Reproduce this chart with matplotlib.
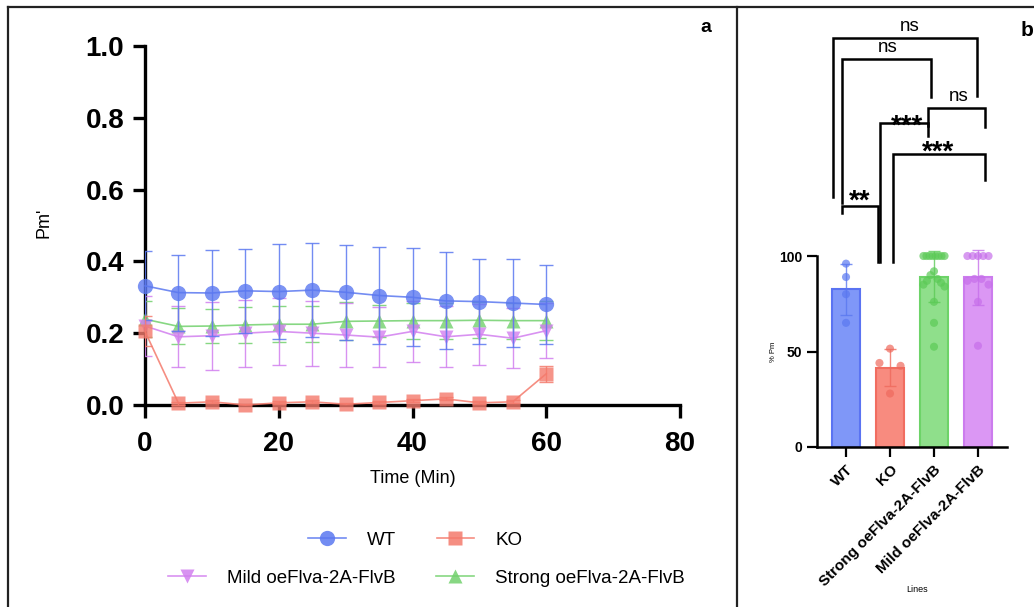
import numpy as np
import matplotlib
matplotlib.use("Agg")
import matplotlib.pyplot as plt
from matplotlib.lines import Line2D
from matplotlib.ticker import FormatStrFormatter

plt.rcParams['font.family'] = ['Liberation Sans', 'DejaVu Sans']

# ---------------- Panel a: Pm' time course ----------------
time_min = [0, 5, 10, 15, 20, 25, 30, 35, 40, 45, 50, 55, 60]

wt_mean = [0.332, 0.313, 0.312, 0.318, 0.316, 0.320, 0.314, 0.305, 0.300, 0.290, 0.288, 0.284, 0.280]
wt_sd = [0.096, 0.106, 0.119, 0.117, 0.133, 0.131, 0.133, 0.135, 0.137, 0.135, 0.119, 0.123, 0.109]

ko_mean = [0.205, 0.005, 0.009, 0.000, 0.006, 0.009, 0.002, 0.007, 0.012, 0.017, 0.006, 0.009, 0.087]
ko_sd = [0.042, 0.004, 0.004, 0.004, 0.004, 0.004, 0.004, 0.004, 0.004, 0.004, 0.004, 0.004, 0.022]

mild_mean = [0.220, 0.190, 0.193, 0.200, 0.205, 0.200, 0.195, 0.189, 0.205, 0.190, 0.197, 0.186, 0.207]
mild_sd = [0.083, 0.085, 0.095, 0.093, 0.093, 0.091, 0.090, 0.084, 0.086, 0.085, 0.085, 0.084, 0.077]

strong_mean = [0.239, 0.219, 0.220, 0.223, 0.225, 0.225, 0.233, 0.234, 0.235, 0.235, 0.236, 0.235, 0.235]
strong_sd = [0.050, 0.050, 0.048, 0.050, 0.050, 0.050, 0.053, 0.045, 0.050, 0.050, 0.050, 0.050, 0.054]

series_labels = ['WT', 'KO', 'Mild oeFlva-2A-FlvB', 'Strong oeFlva-2A-FlvB']

# ---------------- Panel b: % Pm per line ----------------
line_names = ['WT', 'KO', 'Strong oeFlva-2A-FlvB', 'Mild oeFlva-2A-FlvB']
wt_pts = [96, 89, 80, 65]
ko_pts = [51.5, 44, 42.5, 28]
strong_pts = [100, 100, 100, 100, 100, 100, 100, 100, 92, 90, 88, 87, 86, 85, 84, 76, 65, 52.5]
mild_pts = [100, 100, 100, 100, 100, 88, 88, 87, 85, 76, 53]

# pairwise comparisons: (label, left leg x, right leg x, bar height, left leg bottom, right leg bottom, text x, text baseline)
comparisons = [
    ('ns', -0.30, 2.98, 214.0, 131.0, 184.0, 1.45, 218.0),
    ('ns', -0.09, 1.93, 203.0, 128.0, 183.0, 0.95, 207.0),
    ('ns', 1.86, 3.16, 177.5, 168.0, 167.5, 2.55, 181.0),
    ('***', 0.77, 1.86, 169.6, 97.0, 163.0, 1.39, 164.0),
    ('***', 1.07, 3.16, 153.4, 97.0, 140.0, 2.09, 150.5),
    ('**', -0.09, 0.73, 126.0, 122.5, 97.0, 0.32, 125.0),
]

# ---------------- colours ----------------
c_wt, c_ko, c_mild, c_strong = '#5b78f0', '#f47a6c', '#d27fef', '#72d16d'
bar_fill = ['#7f97f8', '#f88b7f', '#8fdf8b', '#db97f4']
bar_edge = ['#5a73f2', '#f16d60', '#6dd368', '#cc7cee']
pt_color = ['#5a78f0', '#ef6a5d', '#5cca57', '#c66fea']

W, H = 1034, 607
fig = plt.figure(figsize=(W / 100, H / 100), dpi=100)


def fx(px):
    return px / W


def fy(py):
    return 1 - py / H


# ================= Panel a =================
ax = fig.add_axes([fx(145), fy(405), fx(680) - fx(145), fy(46) - fy(405)])

styles = [
    (strong_mean, strong_sd, c_strong, '^', 10, 3.0),
    (mild_mean, mild_sd, c_mild, 'v', 10, 3.1),
    (wt_mean, wt_sd, c_wt, 'o', 11, 3.2),
    (ko_mean, ko_sd, c_ko, 's', 10, 3.3),
]
for mean, sd, col, mk, ms, z in styles:
    ax.errorbar(time_min, mean, yerr=sd, fmt='none', ecolor=col, elinewidth=1.0,
                capsize=5, capthick=1.0, alpha=0.85, zorder=z)
    ax.plot(time_min, mean, '-', color=col, lw=1.2, alpha=0.85, zorder=z, clip_on=False)
    ax.plot(time_min, mean, linestyle='none', marker=mk, ms=ms, color=col,
            mec='none', alpha=0.8, zorder=z + 0.05, clip_on=False)

ax.set_xlim(0, 80)
ax.set_ylim(0, 1.0)
ax.set_xticks([0, 20, 40, 60, 80])
ax.set_yticks([0, 0.2, 0.4, 0.6, 0.8, 1.0])
ax.yaxis.set_major_formatter(FormatStrFormatter('%.1f'))
for s in ['top', 'right']:
    ax.spines[s].set_visible(False)
for s in ['left', 'bottom']:
    ax.spines[s].set_linewidth(2.4)
ax.tick_params(axis='both', width=2.4, length=9, labelsize=20)
ax.tick_params(axis='y', pad=6)
ax.tick_params(axis='x', pad=10)
for lbl in ax.get_xticklabels() + ax.get_yticklabels():
    lbl.set_fontweight('bold')

ax.set_ylabel("Pm'", fontsize=13)
ax.yaxis.set_label_coords((53 - 145) / 535, (405 - 223) / 359)
ax.set_xlabel('Time (Min)', fontsize=13)
ax.xaxis.set_label_coords(0.5, (405 - 470) / 359)

h_wt = Line2D([], [], color=c_wt, marker='o', ms=11, lw=1.2, alpha=0.85, mec='none')
h_ko = Line2D([], [], color=c_ko, marker='s', ms=10, lw=1.2, alpha=0.85, mec='none')
h_mild = Line2D([], [], color=c_mild, marker='v', ms=10, lw=1.2, alpha=0.85, mec='none')
h_strong = Line2D([], [], color=c_strong, marker='^', ms=10, lw=1.2, alpha=0.85, mec='none')

leg_kw = dict(loc='center left', frameon=False, fontsize=13.5, handlelength=2.0,
              handletextpad=1.15, borderpad=0, borderaxespad=0, numpoints=1)
leg1 = fig.legend([h_wt, h_ko], series_labels[:2], ncol=2, columnspacing=2.15,
                  bbox_to_anchor=(fx(308), fy(540)), **leg_kw)
leg2 = fig.legend([h_mild, h_strong], series_labels[2:], ncol=2, columnspacing=2.15,
                  bbox_to_anchor=(fx(168), fy(578)), **leg_kw)

# ================= Panel b =================
axb = fig.add_axes([fx(817), fy(447), fx(1007) - fx(817), fy(256) - fy(447)])
groups = [wt_pts, ko_pts, strong_pts, mild_pts]
xpos = np.arange(len(groups))
means = [np.mean(g) for g in groups]
sds = [np.std(g, ddof=1) for g in groups]

axb.bar(xpos, means, width=0.63, color=bar_fill, edgecolor=bar_edge, linewidth=1.5, zorder=2)


def spread(values, gap=4.5, half=0.24):
    """Horizontal offsets: points with close values are fanned out across the bar,
    alternating left and right of the centre."""
    order = np.argsort(values, kind='stable')[::-1]
    vals = np.asarray(values, float)[order]
    offs = np.zeros(len(vals))
    start = 0
    for i in range(1, len(vals) + 1):
        if i == len(vals) or vals[i - 1] - vals[i] > gap:
            n = i - start
            if n > 1:
                slots = np.linspace(-half, half, n)
                if n > 2:
                    mid = (n - 1) / 2.0
                    rank = np.argsort(np.abs(np.arange(n) - mid), kind='stable')
                    slots = slots[rank]
                offs[start:i] = slots
            start = i
    out = np.zeros(len(vals))
    out[order] = offs
    return out


for i, g in enumerate(groups):
    off = spread(g)
    axb.scatter(xpos[i] + off, g, s=34, color=pt_color[i], alpha=0.7,
                edgecolors='none', zorder=3, clip_on=False)
    axb.errorbar(xpos[i], means[i], yerr=sds[i], fmt='none', ecolor=pt_color[i],
                 elinewidth=1.0, capsize=4, capthick=1.0, alpha=0.8, zorder=4, clip_on=False)

axb.set_xlim(-0.66, 3.66)
axb.set_ylim(0, 100)
axb.set_yticks([0, 50, 100])
axb.set_xticks(xpos)
axb.set_xticklabels(line_names, rotation=45, ha='right', rotation_mode='anchor',
                    fontsize=11, fontweight='bold')
for lbl in axb.get_yticklabels():
    lbl.set_fontweight('bold')
for s in ['top', 'right']:
    axb.spines[s].set_visible(False)
for s in ['left', 'bottom']:
    axb.spines[s].set_linewidth(1.8)
axb.tick_params(axis='both', width=1.6, length=7, labelsize=10)
axb.tick_params(axis='x', labelsize=11, pad=4)
axb.set_ylabel('% Pm', fontsize=5.5)
axb.yaxis.set_label_coords((777 - 817) / 190, 0.5)
axb.set_xlabel('Lines', fontsize=6.5)
axb.xaxis.set_label_coords((917 - 817) / 190, -(585 - 447) / 191)

for lab, x1, x2, yb, y1, y2, tx, ty in comparisons:
    axb.plot([x1, x1, x2, x2], [y1, yb, yb, y2], color='black', lw=1.8,
             solid_joinstyle='miter', clip_on=False, zorder=5)
    if lab == 'ns':
        axb.text(tx, ty, lab, ha='center', va='baseline', fontsize=13.5, clip_on=False)
    else:
        axb.text(tx, ty, lab, ha='center', va='baseline', fontsize=20,
                 fontweight='bold', clip_on=False)

# ================= panel frames and letters =================
frame_kw = dict(color='#222222', lw=1.6, transform=fig.transFigure)
fig.add_artist(Line2D([fx(8), 1.0], [fy(7), fy(7)], **frame_kw))
fig.add_artist(Line2D([fx(8), fx(8)], [fy(7), 0.0], **frame_kw))
fig.add_artist(Line2D([fx(737), fx(737)], [fy(7), 0.0], **frame_kw))

fig.text(fx(706), fy(28), 'a', fontsize=14, fontweight='bold', ha='center', va='center')
fig.text(fx(1027), fy(30), 'b', fontsize=15, fontweight='bold', ha='center', va='center')

fig.savefig('out.png', dpi=100, facecolor='white')
